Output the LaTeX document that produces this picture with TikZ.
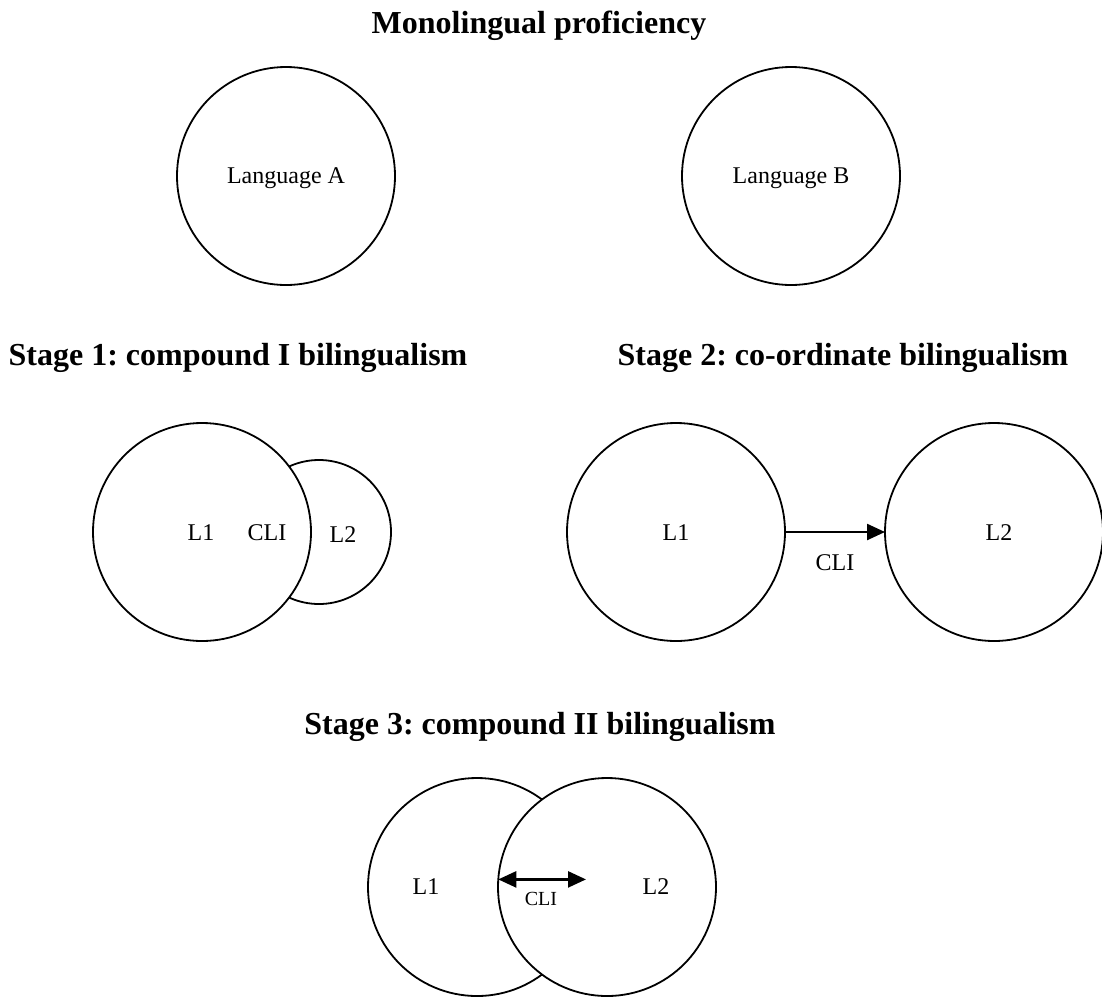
\documentclass[tikz,border=0pt]{standalone}
\usepackage{fontspec}
\setmainfont{Liberation Serif}
\usepackage{tikz}
\usetikzlibrary{arrows.meta, positioning}
\frenchspacing

\begin{document}
\begin{tikzpicture}[
    x=0.5pt, y=-0.5pt,
    lang/.style={
        circle, draw=black, line width=0.9pt,
        fill=white,
        minimum size=109pt,
        inner sep=0pt, outer sep=0pt,
        font=\fontsize{12}{14}\selectfont
    },
    smalllang/.style={lang, minimum size=72pt},
    heading/.style={font=\fontsize{16}{19}\selectfont\bfseries, anchor=base},
    tag/.style={font=\fontsize{12}{14}\selectfont, anchor=base, inner sep=0pt},
    smalltag/.style={font=\fontsize{10}{12}\selectfont, anchor=base, inner sep=0pt},
    line/.style={line width=1.2pt, -{Triangle[length=9pt, width=8pt]}},
    dline/.style={line width=1.2pt, {Triangle[length=9pt, width=8pt]}-{Triangle[length=9pt, width=8pt]}}
]
\useasboundingbox (0,0) rectangle (1102,997);

% Monolingual proficiency
\node[heading] (mono) at (539,33) {Monolingual proficiency};
\node[lang] (langA) at (286,176) {};
\node[lang] (langB) at (791,176) {};
\node[tag] (langAtext) at (286,183) {Language A};
\node[tag] (langBtext) at (791,183) {Language B};

% Stage 1
\node[heading] (stageone) at (238,365) {Stage 1: compound I bilingualism};
\node[smalllang] (oneL2) at (319,532) {};
\node[lang] (oneL1) at (202,532) {};
\node[tag] (oneL1text) at (201,540) {L1};
\node[tag] (oneCLI) at (267,540) {CLI};
\node[tag] (oneL2text) at (343,542) {L2};

% Stage 2
\node[heading] (stagetwo) at (843,365) {Stage 2: co-ordinate bilingualism};
\node[lang] (twoL1) at (676,532) {};
\node[lang] (twoL2) at (994,532) {};
\node[tag] (twoL1text) at (676,540) {L1};
\node[tag] (twoL2text) at (999,540) {L2};
\node[tag] (twoCLI) at (835,570) {CLI};
\draw[line] (twoL1.east) -- (twoL2.west);

% Stage 3
\node[heading] (stagethree) at (540,734) {Stage 3: compound II bilingualism};
\node[lang] (threeL1) at (477,887) {};
\node[lang] (threeL2) at (607,887) {};
\node[tag] (threeL1text) at (426,894) {L1};
\node[tag] (threeL2text) at (656,894) {L2};
\node[smalltag] (threeCLI) at (541,905) {CLI};
\coordinate (cliend) at (586,880);
\draw[dline] (threeL2.176) -- (threeL2.176 -| cliend);

\end{tikzpicture}
\end{document}
